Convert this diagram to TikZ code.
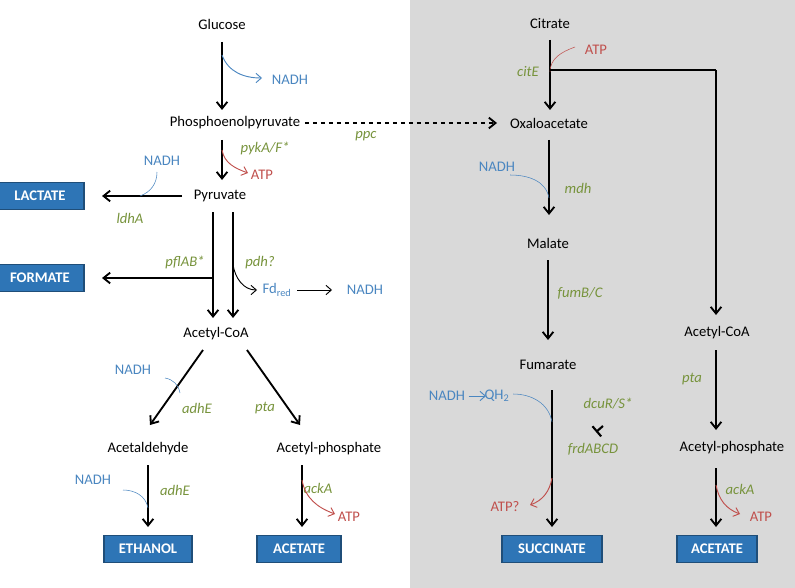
\documentclass[tikz,border=0pt]{standalone}
\usepackage{fontspec}
\setmainfont{Carlito}
\usetikzlibrary{arrows.meta}
\definecolor{gn}{HTML}{77933C}
\definecolor{bl}{HTML}{4A86C0}
\definecolor{rd}{HTML}{C0504D}
\definecolor{bx}{HTML}{2E75B6}
\definecolor{bxd}{HTML}{1F4E79}
\definecolor{bg}{HTML}{D9D9D9}
\begin{document}
\begin{tikzpicture}[x=0.75pt,y=-0.75pt,font=\fontsize{11}{13}\selectfont,
 met/.style={inner sep=1pt},
 gene/.style={text=gn,font=\fontsize{11}{13}\selectfont\itshape,inner sep=1pt},
 cof/.style={text=bl,inner sep=1pt},
 atp/.style={text=rd,inner sep=1pt},
 prod/.style={fill=bx,draw=bxd,line width=1pt,text=white,font=\fontsize{11}{13}\selectfont\bfseries,minimum height=20pt,inner sep=2pt},
 main/.style={-{Straight Barb[length=5pt,width=8pt]},line width=1.4pt},
 side/.style={-{Straight Barb[length=4pt,width=7pt]},line width=0.7pt}]
\useasboundingbox (0,0) rectangle (795,588);
\fill[bg] (410,0) rectangle (795,588);
% left nodes
\node[met] (glc) at (222,24) {Glucose};
\node[met] (pep) at (235,123) {Phosphoenolpyruvate};
\node[met] (pyr) at (220,196) {Pyruvate};
\node[met] (acoa) at (216,334) {Acetyl-CoA};
\node[met] (ald) at (148,449) {Acetaldehyde};
\node[met] (ap) at (329,449) {Acetyl-phosphate};
\node[prod,minimum width=66pt] (lac) at (40,196) {LACTATE};
\node[prod,minimum width=66pt] (for) at (40,278) {FORMATE};
\node[prod,minimum width=66pt] (eth) at (148,549) {ETHANOL};
\node[prod,minimum width=63pt] (ace) at (299,549) {ACETATE};
\node[cof] (n1) at (290,80) {NADH};
\node[gene] at (366,136) {ppc};
\node[gene] at (265,148) {pykA/F*};
\node[atp] (a1) at (262,175) {ATP};
\node[cof] (n2) at (162,161) {NADH};
\node[gene] at (130,218) {ldhA};
\node[gene] at (185,262) {pflAB*};
\node[gene] at (260,263) {pdh?};
\node[cof] (fd) at (277,290) {Fd\textsubscript{red}};
\node[cof] (n3) at (365,290) {NADH};
\node[cof] at (133,370) {NADH};
\node[gene] at (197,408) {adhE};
\node[gene] at (265,408) {pta};
\node[cof] at (93,480) {NADH};
\node[gene] at (175,490) {adhE};
\node[gene] at (318,488) {ackA};
\node[atp] at (349,517) {ATP};
% left arrows
\draw[main] (222,42) -- (222,110);
\draw[bl,side] (222,55) to[out=-70,in=180] (262,78);
\draw[main,dashed] (pep.east) ++(3,0) -- (497,123);
\draw[main] (222,140) -- (222,180);
\draw[rd,side] (222,150) to[out=-80,in=160] (248,173);
\draw[main] (182,196) -- (102,196);
\draw[bl,thin] (157,172) to[out=-90,in=20] (140,196);
\draw[main] (213,212) -- (213,318);
\draw[main] (233,212) -- (233,318);
\draw[main] (213,278) -- (102,278);
\draw[side] (233,265) to[out=-80,in=180] (257,290);
\draw[side] (fd.east) ++(4,0) -- (332,290);
\draw[main] (203,350) -- (150,425);
\draw[main] (247,350) -- (300,425);
\draw[bl,thin] (165,378) to[out=-10,in=100] (180,393);
\draw[main] (148,465) -- (148,527);
\draw[bl,thin] (123,490) to[out=0,in=100] (148,508);
\draw[main] (302,465) -- (302,527);
\draw[rd,side] (302,480) to[out=-80,in=160] (335,514);
% right
\node[met] at (550,24) {Citrate};
\node[met] at (549,123) {Oxaloacetate};
\node[met] at (548,243) {Malate};
\node[met] at (548,365) {Fumarate};
\node[met] at (717,333) {Acetyl-CoA};
\node[met] at (732,448) {Acetyl-phosphate};
\node[prod,minimum width=75pt] at (552,549) {SUCCINATE};
\node[prod,minimum width=60pt] at (717,549) {ACETATE};
\node[atp] at (596,50) {ATP};
\node[gene] at (528,72) {citE};
\node[cof] at (497,167) {NADH};
\node[gene] at (578,188) {mdh};
\node[gene] at (580,293) {fumB/C};
\node[cof] (n4) at (447,396) {NADH};
\node[cof] (qh) at (497,396) {QH\textsubscript{2}};
\node[gene] at (608,404) {dcuR/S*};
\node[gene] at (593,449) {frdABCD};
\node[atp] at (505,507) {ATP?};
\node[gene] at (692,379) {pta};
\node[gene] at (740,489) {ackA};
\node[atp] at (761,517) {ATP};
\draw[main] (550,40) -- (550,110);
\draw[rd,thin] (575,47) to[out=-160,in=90] (550,72);
\draw[line width=1.4pt] (550,70) -- (716,70);
\draw[main] (716,70) -- (716,315);
\draw[main] (549,140) -- (549,215);
\draw[bl,thin] (510,175) to[out=0,in=100] (549,198);
\draw[main] (548,260) -- (548,340);
\draw[main] (552,390) -- (552,527);
\draw[bl,side] (n4.east) ++(2,0) -- (486,396);
\draw[bl,thin] (qh.east) ++(2,-2) to[out=0,in=100] (552,422);
\draw[line width=1.6pt,-{Bar[width=10pt]}] (603,426) -- (596,432);
\draw[rd,side] (552,478) to[out=-100,in=20] (530,505);
\draw[main] (716,350) -- (716,430);
\draw[main] (716,468) -- (716,527);
\draw[rd,side] (716,485) to[out=-80,in=160] (740,514);
\end{tikzpicture}
\end{document}
